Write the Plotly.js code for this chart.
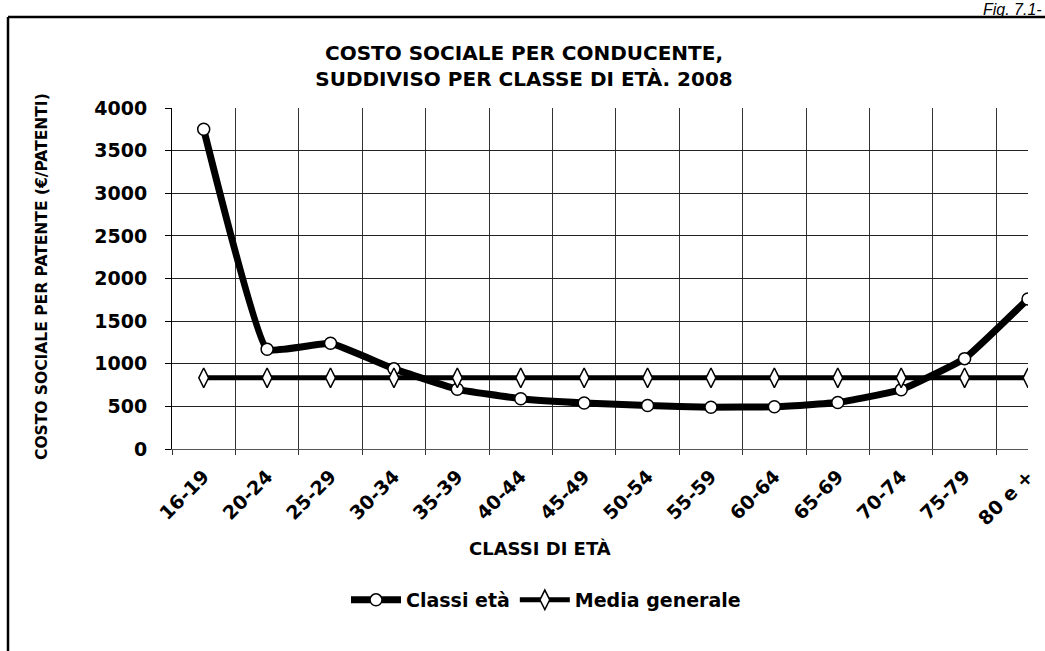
<!DOCTYPE html>
<html>
<head>
<meta charset="utf-8">
<script src="https://cdn.plot.ly/plotly-3.0.1.min.js"></script>
<style>html,body{margin:0;padding:0;background:#fff;}#chart{width:1045px;height:651px;}</style>
</head>
<body>
<div id="chart"></div>
<script>
const categories = ["16-19","20-24","25-29","30-34","35-39","40-44","45-49","50-54","55-59","60-64","65-69","70-74","75-79","80 e +"];
const classiEta = [3750, 1170, 1240, 940, 700, 590, 540, 510, 490, 495, 545, 695, 1060, 1760];
const mediaGenerale = [835, 835, 835, 835, 835, 835, 835, 835, 835, 835, 835, 835, 835, 835];
const yTicks = [0, 500, 1000, 1500, 2000, 2500, 3000, 3500, 4000];

const W = 1045, H = 651;
const L = 172, R = 17, T = 108, B = 202;
const pw = W - L - R, ph = H - T - B;
const px = x => (x - L) / pw;
const py = y => (H - B - y) / ph;

const font = "DejaVu Sans, Verdana, sans-serif";

const traces = [
  {
    x: categories, y: classiEta, name: "Classi età", type: "scatter", mode: "lines+markers",
    line: {color: "#000", width: 7, shape: "spline", smoothing: 0.3},
    marker: {symbol: "circle", size: 12, color: "#fff", line: {color: "#000", width: 1.5}}
  },
  {
    x: categories, y: mediaGenerale, name: "Media generale", type: "scatter", mode: "lines+markers",
    line: {color: "#000", width: 5},
    marker: {symbol: "diamond-tall", size: 14, color: "#fff", line: {color: "#000", width: 1.5}}
  }
];

const layout = {
  width: W, height: H,
  margin: {l: L, r: R, t: T, b: B, pad: 0},
  paper_bgcolor: "#fff", plot_bgcolor: "#fff",
  font: {family: font, color: "#000"},
  title: {
    text: "<b>COSTO SOCIALE PER CONDUCENTE,<br>SUDDIVISO PER CLASSE DI ETÀ. 2008</b>",
    x: 524 / W, xref: "container", xanchor: "center",
    y: 1 - 60 / H, yref: "container", yanchor: "middle",
    font: {family: font, size: 20, color: "#000"}
  },
  xaxis: {
    type: "category", range: [-0.5, 13], tickson: "boundaries",
    showgrid: true, gridcolor: "#333", gridwidth: 1,
    showline: true, linecolor: "#555", linewidth: 1,
    ticks: "outside", ticklen: 5, tickcolor: "#333",
    tickangle: -45, ticklabelstandoff: 8,
    tickfont: {family: font, size: 19, weight: "bold", color: "#000"},
    zeroline: false, fixedrange: true
  },
  yaxis: {
    range: [0, 4000], tickvals: yTicks, ticktext: yTicks.map(String),
    showgrid: true, gridcolor: "#222", gridwidth: 1,
    showline: true, linecolor: "#000", linewidth: 1,
    ticks: "outside", ticklen: 6, tickcolor: "#000", ticklabelstandoff: 14,
    tickfont: {family: font, size: 19, weight: "bold", color: "#000"},
    zeroline: false, fixedrange: true
  },
  showlegend: true,
  legend: {
    orientation: "h", x: px(546), xanchor: "center", y: py(600), yanchor: "middle",
    font: {family: font, size: 19, weight: "bold", color: "#000"},
    bgcolor: "rgba(0,0,0,0)", itemwidth: 50, traceorder: "normal"
  },
  annotations: [
    {text: "<b>COSTO SOCIALE PER PATENTE (€/PATENTI)</b>", textangle: -90,
     xref: "paper", yref: "paper", x: px(42), y: py(277), xanchor: "center", yanchor: "middle",
     showarrow: false, font: {family: font, size: 15.5, color: "#000"}},
    {text: "<b>CLASSI DI ETÀ</b>",
     xref: "paper", yref: "paper", x: px(540), y: py(548), xanchor: "center", yanchor: "middle",
     showarrow: false, font: {family: font, size: 18, color: "#000"}},
    {text: "<i>Fig. 7.1-</i>",
     xref: "paper", yref: "paper", x: px(1044), y: py(9), xanchor: "right", yanchor: "middle",
     showarrow: false, font: {family: "Liberation Sans, Arial, sans-serif", size: 16, color: "#000"}}
  ],
  shapes: [
    {type: "line", xref: "paper", yref: "paper", x0: px(8), x1: px(1045), y0: py(17), y1: py(17),
     line: {color: "#000", width: 2.5}},
    {type: "line", xref: "paper", yref: "paper", x0: px(8), x1: px(8), y0: py(17), y1: py(651),
     line: {color: "#000", width: 2.5}}
  ]
};

Plotly.newPlot("chart", traces, layout, {displayModeBar: false, staticPlot: true});
</script>
</body>
</html>
